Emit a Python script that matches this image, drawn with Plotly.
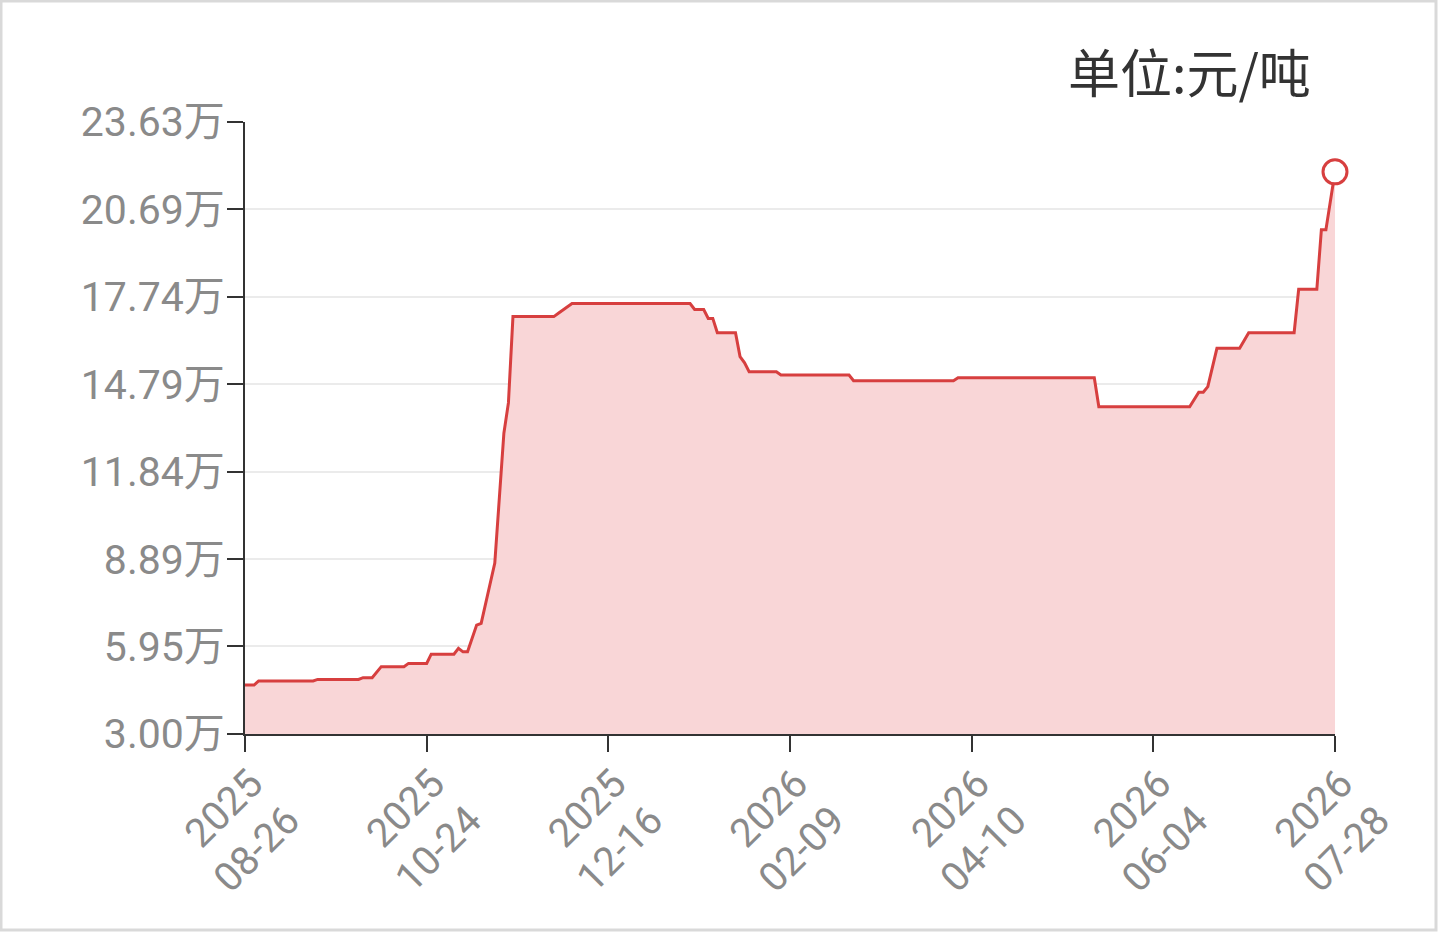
import plotly.graph_objects as go

# trading-day index (x) and price in yuan/ton at each step change
day_idx = [0, 2, 3, 15, 16, 25, 26, 28, 30, 35, 36, 40, 41, 46, 47, 48, 49, 51, 52, 55, 57, 58, 59,
           68, 69, 72, 98, 99, 101, 102, 103, 104, 108, 109, 110, 111, 117, 118, 133, 134,
           156, 157, 187, 188, 208, 210, 211, 212, 214, 219, 221, 231, 232, 236, 237, 238, 240]
price = [46500, 46500, 47900, 47900, 48400, 48400, 49000, 49000, 52700, 52700, 53800, 53800,
         56900, 56900, 58900, 57700, 57700, 66700, 67300, 87600, 131400, 141600, 170700,
         170700, 171800, 175100, 175100, 173100, 173100, 170100, 170100, 165300, 165300,
         157200, 155100, 152100, 152100, 151000, 151000, 149100,
         149100, 150100, 150100, 140300, 140300, 145200, 145200, 147100, 160000, 160000,
         165300, 165300, 179900, 179900, 200000, 200000, 219500]

tick_idx = [0, 40, 80, 120, 160, 200, 240]
tick_dates = ["2025<br>08-26", "2025<br>10-24", "2025<br>12-16", "2026<br>02-09",
              "2026<br>04-10", "2026<br>06-04", "2026<br>07-28"]
y_ticks = [30000, 59500, 88900, 118400, 147900, 177400, 206900, 236300]
y_labels = ["3.00万", "5.95万", "8.89万", "11.84万", "14.79万", "17.74万", "20.69万", "23.63万"]

LINE = "#d73f3f"
FONT = "Roboto, Noto Sans CJK SC, sans-serif"

fig = go.Figure()

fig.add_trace(go.Scatter(
    x=day_idx, y=price,
    mode="lines",
    line=dict(color=LINE, width=3),
    fill="tozeroy",
    fillcolor="#f9d6d7",
    hoverinfo="skip",
    showlegend=False,
))

# hollow marker on the latest price
fig.add_trace(go.Scatter(
    x=day_idx[-1:], y=price[-1:],
    mode="markers",
    marker=dict(size=24, color="white", line=dict(color=LINE, width=3)),
    hoverinfo="skip",
    showlegend=False,
    cliponaxis=False,
))

fig.update_layout(
    width=1439, height=933,
    margin=dict(l=245, r=104, t=122, b=199),
    paper_bgcolor="white",
    plot_bgcolor="white",
    font=dict(family=FONT, color="#8a8a8a", size=40),
    xaxis=dict(
        range=[0, 240],
        tickmode="array", tickvals=tick_idx, ticktext=tick_dates,
        tickangle=-45,
        ticks="outside", ticklen=16, tickwidth=2, tickcolor="#333333",
        ticklabelstandoff=-8, ticklabelshift=6,
        showline=True, linecolor="#333333", linewidth=2,
        showgrid=False, zeroline=False,
        tickfont=dict(size=40, color="#8a8a8a"),
    ),
    yaxis=dict(
        range=[30000, 236300],
        tickmode="array", tickvals=y_ticks, ticktext=y_labels,
        ticks="outside", ticklen=16, tickwidth=2, tickcolor="#333333",
        ticklabelstandoff=-6,
        showline=True, linecolor="#333333", linewidth=2,
        showgrid=True, gridcolor="#ebebeb", gridwidth=2,
        zeroline=False,
        tickfont=dict(size=41, color="#8a8a8a"),
    ),
    annotations=[dict(
        text="单位:元/吨", xref="paper", yref="paper",
        x=(1313 - 245) / 1090, y=(734 - 70) / 612,
        xanchor="right", yanchor="middle", showarrow=False,
        font=dict(family="Noto Sans CJK SC, sans-serif", size=52, color="#333333"),
    )],
    shapes=[dict(
        type="rect", xref="paper", yref="paper",
        x0=(1 - 245) / 1090, x1=(1436 - 245) / 1090,
        y0=(734 - 930) / 612, y1=(734 - 1) / 612,
        line=dict(color="#d9d9d9", width=3), layer="below",
    )],
)

fig.write_html("out.html", config={"displayModeBar": False},
               post_script="document.body.style.margin='0';")
